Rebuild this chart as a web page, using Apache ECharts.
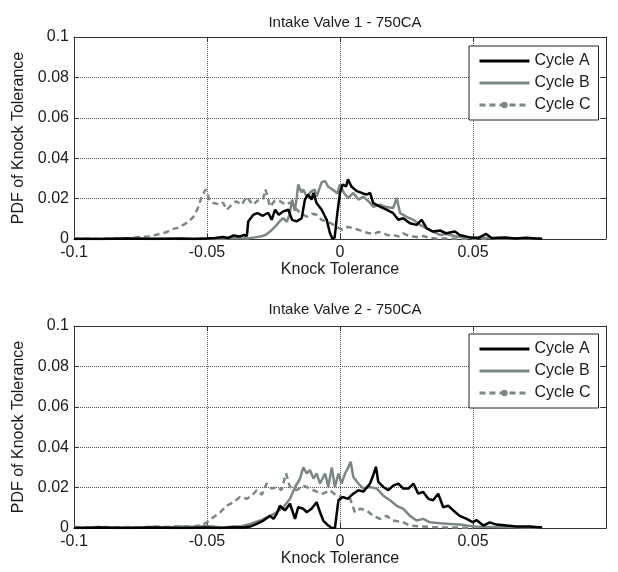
<!DOCTYPE html>
<html>
<head>
<meta charset="utf-8">
<script src="https://cdn.jsdelivr.net/npm/echarts@6/dist/echarts.min.js"></script>
<style>html,body{margin:0;padding:0;background:#fff;}#c{width:618px;height:572px;}</style>
</head>
<body>
<div id="c"></div>
<script>
// ---- data ----
const titles = ['Intake Valve 1 - 750CA', 'Intake Valve 2 - 750CA'];
const seriesNames = ['Cycle A', 'Cycle B', 'Cycle C'];
const xTicks = [-0.1, -0.05, 0, 0.05];
const yTicks = [0, 0.02, 0.04, 0.06, 0.08, 0.1];

const valve1CycleA = [[-0.1,0],[-0.09,0],[-0.08,0.0002],[-0.07,0],[-0.06,0.0003],[-0.055,0],[-0.05,0.0002],[-0.047,0.0005],[-0.044,0.001],[-0.042,0.0005],[-0.040,0.0018],[-0.038,0.0012],[-0.036,0.002],[-0.035,0.0015],[-0.0345,0.0087],[-0.0326,0.012],[-0.031,0.0128],[-0.029,0.0115],[-0.027,0.013],[-0.0257,0.0095],[-0.0244,0.0145],[-0.023,0.012],[-0.0213,0.0137],[-0.0194,0.0145],[-0.018,0.0095],[-0.0163,0.0087],[-0.0144,0.0103],[-0.0132,0.0195],[-0.012,0.022],[-0.0107,0.0195],[-0.010,0.0228],[-0.0088,0.0178],[-0.0069,0.0145],[-0.005,0.0095],[-0.0038,0.003],[-0.0028,0],[-0.002,0.0008],[-0.001,0.0128],[0,0.0228],[0.001,0.027],[0.0023,0.026],[0.003,0.0295],[0.0043,0.026],[0.0063,0.0237],[0.0082,0.0228],[0.01,0.022],[0.0113,0.0228],[0.0125,0.0178],[0.015,0.016],[0.0175,0.0145],[0.02,0.0128],[0.0219,0.0095],[0.0238,0.0103],[0.0263,0.0078],[0.0288,0.007],[0.0307,0.0095],[0.0326,0.0053],[0.035,0.0037],[0.0376,0.0042],[0.04,0.0028],[0.0432,0.0037],[0.045,0.002],[0.0488,0.0008],[0.052,0.0005],[0.055,0.0025],[0.057,0.0005],[0.062,0.0008],[0.066,0.0003],[0.070,0.0006],[0.076,0]];
const valve1CycleB = [[-0.1,0.0003],[-0.09,0],[-0.08,0.0003],[-0.07,0.0002],[-0.06,0],[-0.05,0.0003],[-0.045,0],[-0.04,0.0005],[-0.035,0.0003],[-0.032,0.0008],[-0.030,0.0012],[-0.028,0.002],[-0.0263,0.0037],[-0.0245,0.006],[-0.0238,0.007],[-0.0225,0.009],[-0.0213,0.0103],[-0.020,0.0085],[-0.019,0.012],[-0.018,0.0195],[-0.017,0.014],[-0.0163,0.02],[-0.0157,0.027],[-0.0145,0.023],[-0.0138,0.0245],[-0.0125,0.021],[-0.0107,0.0237],[-0.0095,0.0245],[-0.0088,0.021],[-0.0069,0.028],[-0.0056,0.0287],[-0.0045,0.026],[-0.0038,0.0253],[-0.002,0.0237],[-0.001,0.0225],[0,0.027],[0.0015,0.0228],[0.003,0.0203],[0.005,0.0228],[0.0069,0.0195],[0.0088,0.021],[0.0107,0.0187],[0.0125,0.016],[0.015,0.017],[0.0175,0.0158],[0.02,0.0153],[0.0213,0.0203],[0.0226,0.0128],[0.025,0.011],[0.0276,0.0095],[0.03,0.007],[0.0326,0.0053],[0.035,0.0037],[0.0376,0.002],[0.04,0.0025],[0.0438,0.0012],[0.047,0.0008],[0.05,0.0007],[0.055,0.0005],[0.06,0.0002],[0.065,0.0004],[0.07,0.0002],[0.076,0.0003]];
const valve1CycleC = [[-0.1,0],[-0.095,0.0003],[-0.09,0],[-0.085,0.0004],[-0.08,0.0002],[-0.0775,0.0006],[-0.0752,0.001],[-0.072,0.0012],[-0.07,0.0018],[-0.0677,0.0025],[-0.065,0.0035],[-0.0627,0.005],[-0.061,0.0055],[-0.0589,0.007],[-0.057,0.0085],[-0.0551,0.011],[-0.0535,0.015],[-0.052,0.021],[-0.0505,0.0245],[-0.049,0.019],[-0.048,0.018],[-0.0465,0.0175],[-0.045,0.017],[-0.044,0.018],[-0.0426,0.0145],[-0.041,0.0165],[-0.039,0.0187],[-0.037,0.017],[-0.035,0.021],[-0.034,0.019],[-0.0326,0.017],[-0.031,0.019],[-0.029,0.0195],[-0.028,0.0245],[-0.0263,0.016],[-0.0245,0.019],[-0.0225,0.0187],[-0.0205,0.017],[-0.0188,0.018],[-0.017,0.0155],[-0.015,0.013],[-0.0125,0.011],[-0.0105,0.0125],[-0.0088,0.012],[-0.007,0.0095],[-0.005,0.0087],[-0.003,0.0075],[-0.0013,0.006],[0.001,0.0045],[0.003,0.006],[0.005,0.0053],[0.007,0.0045],[0.0088,0.0037],[0.0105,0.003],[0.0125,0.0025],[0.0145,0.0035],[0.0163,0.003],[0.018,0.0018],[0.02,0.002],[0.022,0.0012],[0.0238,0.0028],[0.026,0.0015],[0.0276,0.0012],[0.03,0.0008],[0.0313,0.0015],[0.034,0.0005],[0.036,0.0002],[0.04,0.0003],[0.045,0],[0.05,0.0002],[0.055,0]];

const valve2CycleA = [[-0.1,0],[-0.09,0.0002],[-0.08,0],[-0.07,0.0003],[-0.06,0],[-0.05,0.0003],[-0.045,0],[-0.04,0.0004],[-0.036,0.0003],[-0.0338,0.0007],[-0.0313,0.002],[-0.0288,0.0037],[-0.0263,0.006],[-0.025,0.0045],[-0.0238,0.007],[-0.0226,0.011],[-0.0207,0.0087],[-0.0188,0.012],[-0.0169,0.0045],[-0.0157,0.0103],[-0.0138,0.0095],[-0.0125,0.0078],[-0.0107,0.0095],[-0.0088,0.0128],[-0.0075,0.0078],[-0.0063,0.0037],[-0.0044,0.0012],[-0.0031,0],[-0.0019,0],[-0.0006,0.0137],[0.001,0.0153],[0.003,0.0145],[0.005,0.017],[0.0069,0.0187],[0.0088,0.018],[0.0113,0.022],[0.0125,0.0262],[0.0135,0.0303],[0.0144,0.0228],[0.0163,0.0203],[0.0182,0.0187],[0.02,0.021],[0.0219,0.022],[0.0238,0.0195],[0.0257,0.0195],[0.0276,0.022],[0.0294,0.017],[0.0313,0.0178],[0.0332,0.0145],[0.035,0.0137],[0.0369,0.017],[0.0388,0.0103],[0.0407,0.011],[0.0426,0.0087],[0.045,0.006],[0.0476,0.0045],[0.05,0.0028],[0.0513,0.004],[0.0539,0.0012],[0.0563,0.0028],[0.0589,0.0017],[0.0627,0.0012],[0.0664,0.0008],[0.0714,0.0007],[0.076,0.0003]];
const valve2CycleB = [[-0.1,0.0003],[-0.095,0],[-0.09,0.0004],[-0.085,0],[-0.08,0.0003],[-0.075,0.0002],[-0.07,0.0005],[-0.065,0.0003],[-0.06,0.0008],[-0.055,0.0005],[-0.05,0.001],[-0.047,0.0006],[-0.0439,0.0003],[-0.04,0.0007],[-0.0376,0.0007],[-0.0338,0.002],[-0.03,0.0037],[-0.0263,0.006],[-0.0238,0.0078],[-0.0213,0.0103],[-0.0188,0.0145],[-0.0169,0.0203],[-0.015,0.0245],[-0.0138,0.030],[-0.0125,0.027],[-0.0113,0.0287],[-0.01,0.0245],[-0.0088,0.027],[-0.0075,0.022],[-0.0056,0.027],[-0.0044,0.0203],[-0.0031,0.030],[-0.0019,0.0203],[-0.0006,0.027],[0.0006,0.022],[0.0019,0.027],[0.0031,0.030],[0.004,0.0328],[0.005,0.0253],[0.0069,0.022],[0.0088,0.0195],[0.0113,0.0203],[0.0138,0.0195],[0.0163,0.016],[0.0188,0.0137],[0.0213,0.011],[0.0238,0.0095],[0.0263,0.006],[0.0288,0.0037],[0.0313,0.0045],[0.0338,0.0028],[0.0376,0.0023],[0.0413,0.002],[0.045,0.0017],[0.05,0.0008],[0.055,0.0006],[0.0627,0.0005],[0.07,0.0003],[0.076,0.0002]];
const valve2CycleC = [[-0.1,0.0005],[-0.095,0.0002],[-0.09,0.0006],[-0.085,0.0002],[-0.08,0.0005],[-0.075,0.0003],[-0.07,0.0008],[-0.065,0.0005],[-0.06,0.0009],[-0.0564,0.0007],[-0.0526,0.0012],[-0.05,0.0028],[-0.0476,0.0053],[-0.045,0.0078],[-0.0426,0.011],[-0.04,0.0128],[-0.0376,0.0153],[-0.035,0.0145],[-0.0332,0.016],[-0.0313,0.0187],[-0.0294,0.0165],[-0.0276,0.022],[-0.0257,0.0195],[-0.0238,0.0203],[-0.022,0.0187],[-0.0203,0.027],[-0.0188,0.0203],[-0.0163,0.0187],[-0.0138,0.021],[-0.0113,0.0195],[-0.0088,0.018],[-0.0063,0.017],[-0.0038,0.0187],[-0.0013,0.016],[0.001,0.0153],[0.0038,0.0145],[0.0056,0.0078],[0.0075,0.0095],[0.01,0.0087],[0.0125,0.006],[0.015,0.0045],[0.0175,0.006],[0.02,0.0037],[0.0238,0.0028],[0.0263,0.0012],[0.03,0.0008],[0.035,0.0005],[0.04,0.0003],[0.045,0.0002],[0.05,0]];

const panels = [
  [valve1CycleA, valve1CycleB, valve1CycleC],
  [valve2CycleA, valve2CycleB, valve2CycleC]
];

// ---- styling ----
const FONT = 'Liberation Sans, Arial, sans-serif';
const TXT = '#1a1a1a';
const GREY = '#7b8787';
const gridTops = [37, 326];
const gridH = 202;
const titleTops = [10, 297];
const legendTops = [46, 334];

const chart = echarts.init(document.getElementById('c'), null, {renderer: 'canvas'});

const grid = [], xAxis = [], yAxis = [], series = [], title = [], legend = [];
const styles = [
  {color: '#000', type: 'solid', symbol: 'none'},
  {color: GREY, type: 'solid', symbol: 'none'},
  {color: GREY, type: [6, 4], symbol: 'circle'}
];
panels.forEach((p, i) => {
  grid.push({left: 74, right: 12, top: gridTops[i], height: gridH, containLabel: false});
  title.push({text: titles[i], left: 340, top: titleTops[i], textAlign: 'center',
    textStyle: {fontFamily: FONT, fontSize: 15, fontWeight: 'normal', color: TXT}});
  const axisLine = {show: true, onZero: false, lineStyle: {color: '#333', width: 1}};
  const tick = {show: true, inside: true, length: 5, lineStyle: {color: '#333'}};
  const split = {show: true, lineStyle: {color: '#555', type: 'dotted', width: 1}};
  xAxis.push({gridIndex: i, type: 'value', min: xTicks[0], max: 0.1, interval: 0.05, position: 'bottom',
    axisLine, axisTick: tick, splitLine: split,
    axisLabel: {fontFamily: FONT, fontSize: 16, color: TXT, margin: 6,
      formatter: v => (v > 0.09 ? '' : String(Math.round(v * 1000) / 1000))},
    name: 'Knock Tolerance', nameLocation: 'middle', nameGap: 23,
    nameTextStyle: {fontFamily: FONT, fontSize: 16, color: TXT}});
  xAxis.push({gridIndex: i, type: 'value', min: -0.1, max: 0.1, interval: 0.05, position: 'top',
    axisLine, axisTick: tick, splitLine: {show: false}, axisLabel: {show: false}});
  yAxis.push({gridIndex: i, type: 'value', min: yTicks[0], max: yTicks[yTicks.length - 1], interval: 0.02, position: 'left',
    axisLine, axisTick: tick, splitLine: split,
    axisLabel: {fontFamily: FONT, fontSize: 16, color: TXT, margin: 5,
      formatter: v => String(Math.round(v * 1000) / 1000)},
    name: 'PDF of Knock Tolerance', nameLocation: 'middle', nameGap: 44,
    nameTextStyle: {fontFamily: FONT, fontSize: 16, color: TXT}});
  yAxis.push({gridIndex: i, type: 'value', min: 0, max: 0.1, interval: 0.02, position: 'right',
    axisLine, axisTick: tick, splitLine: {show: false}, axisLabel: {show: false}});

  p.forEach((d, k) => {
    series.push({
      type: 'line', name: seriesNames[k], xAxisIndex: 2 * i, yAxisIndex: 2 * i,
      data: d, symbol: styles[k].symbol, symbolSize: 6, showSymbol: false,
      itemStyle: {color: styles[k].color},
      lineStyle: {color: styles[k].color, width: 2.5, type: styles[k].type},
      animation: false, z: 5 - k, silent: true
    });
  });

  legend.push({
    left: 469, top: legendTops[i], orient: 'vertical',
    data: seriesNames.map((n, k) => k === 2 ? {name: n} :
      {name: n, itemStyle: {color: 'rgba(0,0,0,0)', borderWidth: 0, opacity: 0}}),
    itemWidth: 50, itemHeight: 8, itemGap: 6, padding: [7, 8, 7, 9],
    lineStyle: {width: 3},
    backgroundColor: '#fff', borderColor: '#222', borderWidth: 1,
    textStyle: {fontFamily: FONT, fontSize: 16, color: TXT}, selectedMode: false
  });
});

chart.setOption({animation: false, backgroundColor: '#fff', title, grid, xAxis, yAxis, series, legend});
</script>
</body>
</html>
